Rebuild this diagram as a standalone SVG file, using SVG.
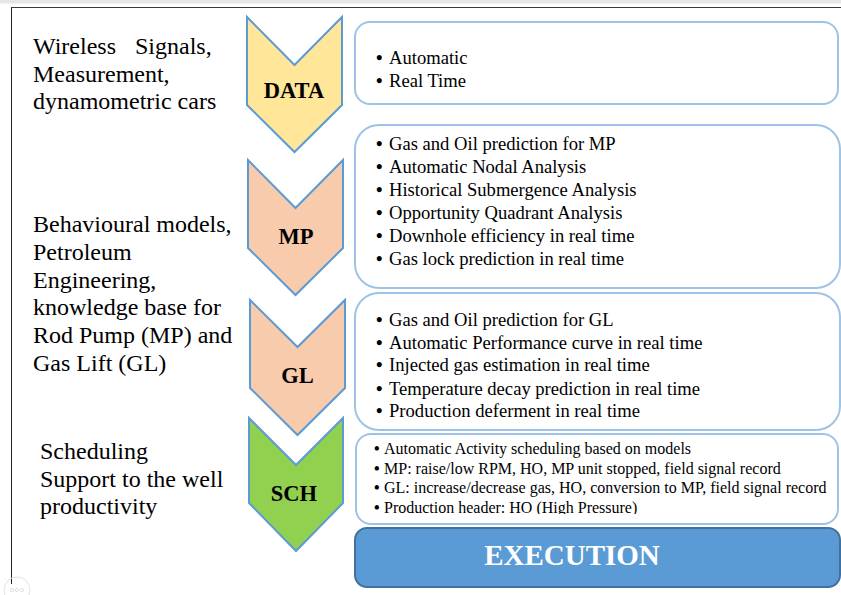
<svg xmlns="http://www.w3.org/2000/svg" width="841" height="595" viewBox="0 0 841 595">
  <style>
    .chev { stroke: #5B9BD5; stroke-width: 2; stroke-linejoin: miter; }
    .clab { font-family: "Liberation Serif", "Times New Roman", serif; font-weight: bold; font-size: 22.5px; fill: #000; text-anchor: middle; }
    .box { fill: #fff; stroke: #9DC3E6; stroke-width: 2; }
    .side { font-family: "Liberation Serif", "Times New Roman", serif; font-size: 24px; fill: #000; }
    .item { font-family: "Liberation Serif", "Times New Roman", serif; font-size: 18.6px; fill: #000; }
    .small { font-family: "Liberation Serif", "Times New Roman", serif; font-size: 16px; fill: #000; }
    .dot { font-weight: bold; }
  </style>
  <defs>
    <clipPath id="schClip">
      <rect x="356" y="435" width="482" height="79"/>
    </clipPath>
  </defs>

  <rect x="0" y="0" width="841" height="595" fill="#fff"/>

  <!-- page frame -->
  <g id="frame">
    <rect x="0" y="0" width="841" height="3.5" fill="#e6e6e6"/>
    <line x1="11" y1="7.5" x2="841" y2="7.5" stroke="#3a3a3a" stroke-width="1"/>
    <line x1="11.5" y1="7.5" x2="11.5" y2="584" stroke="#222" stroke-width="1"/>
    <circle cx="17" cy="590" r="13" fill="none" stroke="#e2e2e2" stroke-width="1"/>
    <circle cx="12" cy="590" r="1.6" fill="none" stroke="#d8d8d8" stroke-width="0.8"/>
    <circle cx="17" cy="590" r="1.6" fill="none" stroke="#d8d8d8" stroke-width="0.8"/>
    <circle cx="22" cy="590" r="1.6" fill="none" stroke="#d8d8d8" stroke-width="0.8"/>
  </g>

  <!-- left-hand descriptions -->
  <g id="side-data">
    <text class="side" x="33" y="54">Wireless <tspan x="135">Signals,</tspan></text>
    <text class="side" x="33" y="81.5">Measurement,</text>
    <text class="side" x="33" y="109">dynamometric cars</text>
  </g>
  <g id="side-models">
    <text class="side" x="33" y="232">Behavioural models,</text>
    <text class="side" x="33" y="260">Petroleum</text>
    <text class="side" x="33" y="287.5">Engineering,</text>
    <text class="side" x="33" y="315">knowledge base for</text>
    <text class="side" x="33" y="343">Rod Pump (MP) and</text>
    <text class="side" x="33" y="370.5">Gas Lift (GL)</text>
  </g>
  <g id="side-sch">
    <text class="side" x="40" y="459">Scheduling</text>
    <text class="side" x="40" y="486.5">Support to the well</text>
    <text class="side" x="40" y="514">productivity</text>
  </g>

  <!-- process chevrons -->
  <g id="chev-data">
    <polygon class="chev" fill="#FFE699" points="247,17 294.5,65 342,17 342,105 294.5,152 247,105"/>
    <text class="clab" x="294" y="97.5">DATA</text>
  </g>
  <g id="chev-mp">
    <polygon class="chev" fill="#F8CBAD" points="248,160 295.5,208 343,160 343,248 295.5,295 248,248"/>
    <text class="clab" x="296" y="243.5">MP</text>
  </g>
  <g id="chev-gl">
    <polygon class="chev" fill="#F8CBAD" points="250,300 297.5,347 345,300 345,388 297.5,435 250,388"/>
    <text class="clab" x="297.5" y="382.5">GL</text>
  </g>
  <g id="chev-sch">
    <polygon class="chev" fill="#92D050" points="249,418 296,465 343,418 343,503 296,551 249,503"/>
    <text class="clab" x="294" y="500.5">SCH</text>
  </g>

  <!-- detail boxes -->
  <g id="box-data">
    <rect class="box" x="355" y="22" width="483" height="82" rx="15"/>
    <text class="item" y="64"><tspan class="dot" x="376">•</tspan><tspan x="389">Automatic</tspan></text>
    <text class="item" y="86.5"><tspan class="dot" x="376">•</tspan><tspan x="389">Real Time</tspan></text>
  </g>
  <g id="box-mp">
    <rect class="box" x="355" y="125" width="485" height="163" rx="24"/>
    <text class="item" y="150"><tspan class="dot" x="376">•</tspan><tspan x="389">Gas and Oil prediction for MP</tspan></text>
    <text class="item" y="173"><tspan class="dot" x="376">•</tspan><tspan x="389">Automatic Nodal Analysis</tspan></text>
    <text class="item" y="196"><tspan class="dot" x="376">•</tspan><tspan x="389">Historical Submergence Analysis</tspan></text>
    <text class="item" y="219"><tspan class="dot" x="376">•</tspan><tspan x="389">Opportunity Quadrant Analysis</tspan></text>
    <text class="item" y="242"><tspan class="dot" x="376">•</tspan><tspan x="389">Downhole efficiency in real time</tspan></text>
    <text class="item" y="265"><tspan class="dot" x="376">•</tspan><tspan x="389">Gas lock prediction in real time</tspan></text>
  </g>
  <g id="box-gl">
    <rect class="box" x="355" y="293" width="485" height="137" rx="24"/>
    <text class="item" y="326"><tspan class="dot" x="376">•</tspan><tspan x="389">Gas and Oil prediction for GL</tspan></text>
    <text class="item" y="349"><tspan class="dot" x="376">•</tspan><tspan x="389">Automatic Performance curve in real time</tspan></text>
    <text class="item" y="371"><tspan class="dot" x="376">•</tspan><tspan x="389">Injected gas estimation in real time</tspan></text>
    <text class="item" y="395"><tspan class="dot" x="376">•</tspan><tspan x="389">Temperature decay prediction in real time</tspan></text>
    <text class="item" y="417"><tspan class="dot" x="376">•</tspan><tspan x="389">Production deferment in real time</tspan></text>
  </g>
  <g id="box-sch">
    <rect class="box" x="356" y="434" width="482" height="90" rx="15"/>
    <g clip-path="url(#schClip)">
      <text class="small" y="453.5"><tspan class="dot" x="374">•</tspan><tspan x="384">Automatic Activity scheduling based on models</tspan></text>
      <text class="small" y="473.5"><tspan class="dot" x="374">•</tspan><tspan x="384">MP: raise/low RPM, HO, MP unit stopped, field signal record</tspan></text>
      <text class="small" y="493"><tspan class="dot" x="374">•</tspan><tspan x="384">GL: increase/decrease gas, HO, conversion to MP, field signal record</tspan></text>
      <text class="small" y="513"><tspan class="dot" x="374">•</tspan><tspan x="384">Production header: HO (High Pressure)</tspan></text>
    </g>
  </g>

  <!-- execution bar -->
  <g id="execution">
    <rect x="355" y="528" width="485" height="59" rx="12" fill="#5B9BD5" stroke="#41719C" stroke-width="2"/>
    <text x="572" y="565" font-family="'Liberation Serif', 'Times New Roman', serif" font-weight="bold" font-size="29" fill="#fff" text-anchor="middle">EXECUTION</text>
  </g>
</svg>
